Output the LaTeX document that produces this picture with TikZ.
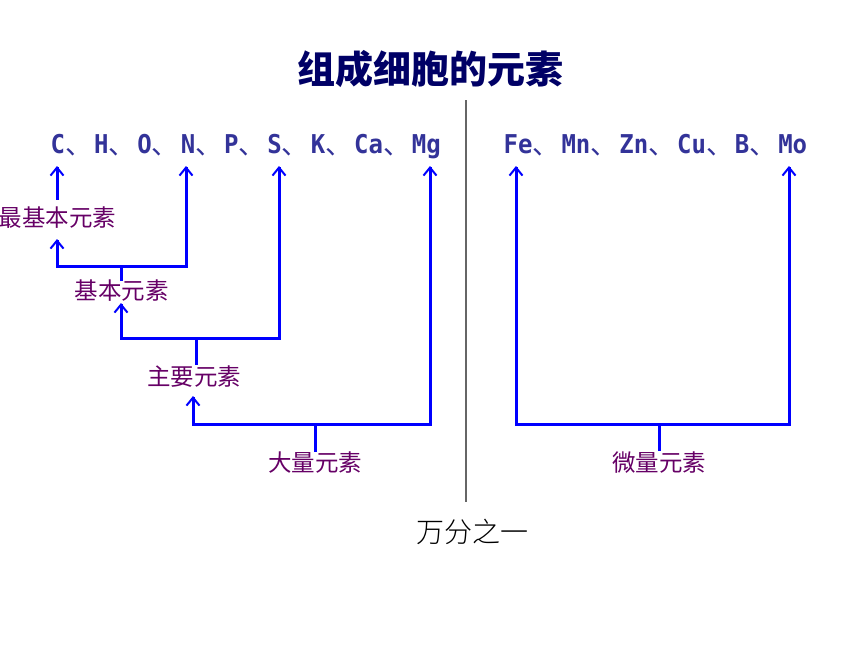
\documentclass[tikz,border=0pt]{standalone}
\usepackage{fontspec}
\newfontfamily\cjk{Noto Sans CJK SC}
\newfontfamily\cjkl{Noto Sans CJK SC Light}
\newfontfamily\mono{DejaVu Sans Mono}
\usetikzlibrary{arrows.meta}
\definecolor{titlec}{HTML}{000066}
\definecolor{elemc}{HTML}{333399}
\definecolor{labc}{HTML}{660066}
\definecolor{blu}{HTML}{0000FF}
\definecolor{divc}{HTML}{666666}
\tikzset{
  el/.style={anchor=base west, inner sep=0pt, text=elemc, font=\mono\bfseries\fontsize{24}{24}\selectfont},
  dn/.style={anchor=base west, inner sep=0pt, text=elemc, font=\cjk\fontsize{27}{27}\selectfont},
  lab/.style={inner sep=0pt, text=labc, font=\cjk\fontsize{23.5}{24}\selectfont},
  ln/.style={draw=blu, line width=3pt, line cap=rect},
  arr/.style={draw=blu, line width=3pt, line cap=rect, -{Straight Barb[length=8pt,width=13pt,line width=2pt]}},
}
\begin{document}
\begin{tikzpicture}[x=1pt,y=-1pt]
\fill[white] (0,0) rectangle (860,645);
\useasboundingbox (0,0) rectangle (860,645);

% title
\node[font=\cjk\bfseries\fontsize{38}{40}\selectfont, text=titlec, inner sep=0pt] (title) at (430,69) {组成细胞的元素};

% divider
\coordinate (dtop) at (466,100);
\coordinate (dbot) at (466,502);
\draw[divc, line width=1.2pt] (dtop) -- (dbot);

% element rows
\foreach \x/\t/\n in {50.5/C/C, 93.85/H/H, 137.2/O/O, 180.55/N/N, 223.9/P/P, 267.25/S/S, 310.6/K/K, 353.95/Ca/Ca, 411.75/Mg/Mg,
                       503.5/Fe/Fe, 561.3/Mn/Mn, 619.1/Zn/Zn, 676.9/Cu/Cu, 734.7/B/B, 778.05/Mo/Mo}
  \node[el] (\n) at (\x,153) {\scalebox{1}[1.08]{\t}};
\foreach \x [count=\i] in {64.95, 108.3, 151.65, 195.0, 238.35, 281.7, 325.05, 382.85,
                           532.4, 590.2, 648.0, 705.8, 749.15}
  \node[dn] (d\i) at (\x,154) {、};

% labels
\node[lab] (zjb) at (57.5,218) {最基本元素};
\node[lab] (jb)  at (121.5,291) {基本元素};
\node[lab] (zy)  at (194,377) {主要元素};
\node[lab] (dl)  at (315,463) {大量元素};
\node[lab] (wl)  at (659,463) {微量元素};

% arrow tips under elements
\coordinate (tC)  at (57,166);
\coordinate (tN)  at (186,166);
\coordinate (tS)  at (279,166);
\coordinate (tMg) at (430,166);
\coordinate (tFe) at (516,166);
\coordinate (tMo) at (789,166);

% 最基本元素 -> C
\draw[arr] ([yshift=8pt]zjb.north -| tC) -- (tC);

% bracket 1 : 基本元素
\coordinate (b1l) at (57,266);
\coordinate (b1r) at (186,266);
\coordinate (b1m) at (121,266);
\draw[arr] (b1l) -- ([yshift=-10pt]zjb.south -| b1l);
\draw[arr] (b1l) -- (b1r) -- (tN);
\draw[ln] (b1m) -- (b1m |- jb.north);

% bracket 2 : 主要元素
\coordinate (b2l) at (121,338);
\coordinate (b2r) at (279,338);
\coordinate (b2m) at (196,338);
\draw[arr] (b2l) -- ([yshift=-1pt]jb.south -| b2l);
\draw[arr] (b2l) -- (b2r) -- (tS);
\draw[ln] (b2m) -- ([yshift=2pt]b2m |- zy.north);

% bracket 3 : 大量元素
\coordinate (b3l) at (193,424);
\coordinate (b3r) at (430,424);
\coordinate (b3m) at (315,424);
\draw[arr] (b3l) -- ([yshift=-8pt]zy.south -| b3l);
\draw[arr] (b3l) -- (b3r) -- (tMg);
\draw[ln] (b3m) -- ([yshift=2pt]b3m |- dl.north);

% bracket 4 : 微量元素
\coordinate (b4l) at (516,424);
\coordinate (b4r) at (789,424);
\coordinate (b4m) at (659,424);
\draw[arr] (b4l) -- (tFe);
\draw[arr] (b4l) -- (b4r) -- (tMo);
\draw[ln] (b4m) -- ([yshift=2pt]b4m |- wl.north);

% 万分之一
\node[font=\cjkl\fontsize{28}{28}\selectfont, inner sep=0pt] (wan) at (472.5,532) {万分之一};
\end{tikzpicture}
\end{document}
